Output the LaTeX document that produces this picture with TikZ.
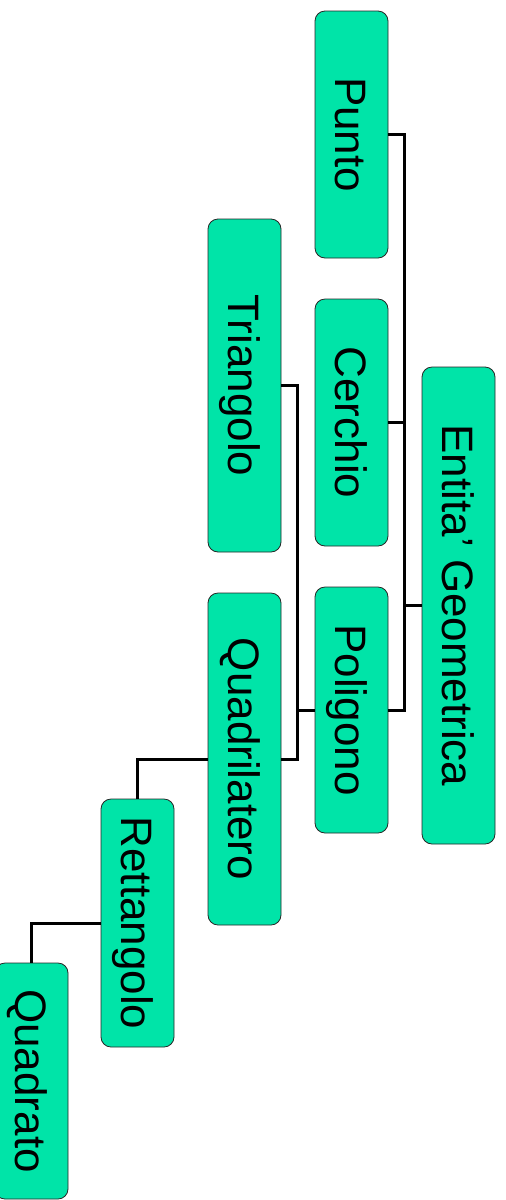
\documentclass[tikz,border=0pt]{standalone}
\usepackage{fontspec}
\setmainfont{Liberation Sans}
\definecolor{boxgreen}{RGB}{0,228,168}
\newcommand{\vtext}[1]{\rotatebox{-90}{\raisebox{0pt}[33pt][0pt]{#1}}}

\begin{document}
\begin{tikzpicture}[x=1pt, y=-1pt]
            \tikzstyle{box}=[draw=black!85,fill=boxgreen,rounded corners=10pt,line width=0.8pt,inner sep=0pt,minimum width=73pt,font=\fontsize{44}{50}\selectfont]
            \tikzstyle{link}=[line width=3pt]
            \useasboundingbox (0,0) rectangle (506,1200);

            \node[box, minimum height=477pt] (EG) at (458.5,605.5) {\vtext{Entita’ Geometrica}};
            \node[box, minimum height=247pt] (Pu) at (351.5,134.5) {\vtext{Punto}};
            \node[box, minimum height=247pt] (Ce) at (351.5,422.5) {\vtext{Cerchio}};
            \node[box, minimum height=246pt] (Po) at (351.5,710) {\vtext{Poligono}};
            \node[box, minimum height=333pt] (Tr) at (244.5,385.5) {\vtext{Triangolo}};
            \node[box, minimum height=332pt] (Qu) at (244.5,759) {\vtext{Quadrilatero}};
            \node[box, minimum height=248pt] (Re) at (137.5,923) {\vtext{Rettangolo}};
            \node[box, minimum height=236pt] (Qd) at (31.5,1081) {\vtext{Quadrato}};

            \draw[link] (EG.west) -- ++(-17,0) coordinate (J_1);
            \draw[link] (Pu.east) -| (J_1);
            \draw[link] (Ce.east) -| (J_1);
            \draw[link] (Po.east) -| (J_1);

            \draw[link] (Po.west) -- ++(-17,0) coordinate (J_2);
            \draw[link] (Tr.east) -| (J_2);
            \draw[link] (Qu.east) -| (J_2);

            \draw[link] (Qu.west) -| (Re.north);
            \draw[link] (Re.west) -| (Qd.north);
\end{tikzpicture}
\end{document}
